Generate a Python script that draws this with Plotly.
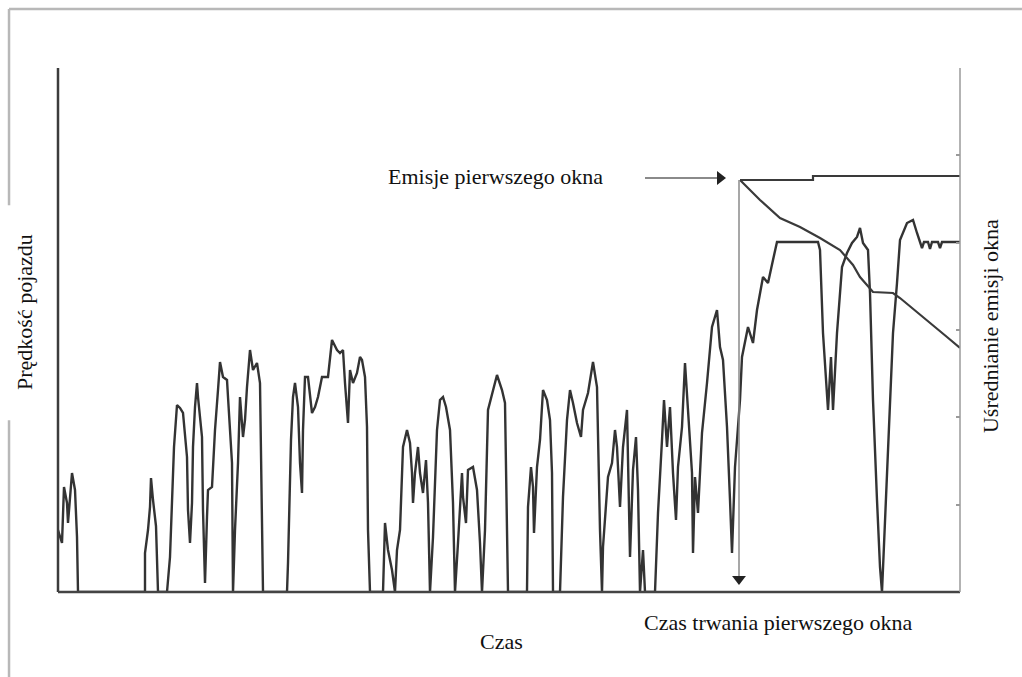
import plotly.graph_objects as go

# Vehicle speed trace (time units, speed units)
time_s = [0, 4, 6, 9, 10, 12, 14, 17, 19, 20, 87, 87, 90, 92, 93, 95, 97, 98, 100,
          109, 112, 114, 116, 119, 122, 125, 129, 130, 132, 134, 135, 137, 139, 140, 144, 145, 147,
          149, 150, 154, 157, 160, 162, 165, 169, 170, 174, 175, 177, 180, 182, 185, 187, 189, 192,
          195, 199, 202, 204, 205, 229, 230, 233, 235, 237, 240, 242, 244, 245, 247, 250, 254, 257,
          260, 264, 270, 274, 279, 282, 285, 287, 290, 292, 295, 299, 302, 304, 307, 309, 310, 312,
          325, 327, 330, 334, 337, 339, 342, 345, 349, 352, 354, 355, 357, 360, 362, 365, 368, 370,
          372, 375, 379, 382, 385, 388, 392, 395, 397, 400, 404, 405, 408, 410, 415, 419, 422, 424,
          427, 430, 435, 439, 444, 447, 449, 450, 469, 470, 473, 475, 476, 479, 482, 485, 489, 492,
          494, 495, 502, 505, 509, 512, 515, 519, 523, 525, 530, 535, 539, 540, 542, 544, 545, 550,
          554, 557, 559, 562, 565, 569, 572, 575, 578, 580, 582, 585, 587, 597, 600, 604, 606, 609,
          612, 615, 618, 620, 624, 627, 630, 634, 635, 637, 640, 644, 649, 654, 659, 662, 665, 669,
          672, 674, 677, 682, 684, 690, 695, 699, 705, 710, 715, 719, 760, 762, 765, 769, 770, 773,
          775, 779, 784, 789, 794, 799, 802, 805, 810, 812, 815, 819, 822, 824, 825, 829, 832, 835,
          839, 842, 849, 855, 859, 862, 864, 866, 870, 872, 874, 880, 882, 884, 902]
speed = [62, 49, 105, 89, 69, 95, 119, 102, 55, 0, 0, 39, 62, 85, 114, 92, 72, 66, 0,
         0, 35, 102, 145, 187, 184, 179, 135, 82, 49, 89, 145, 185, 209, 195, 155, 82, 9,
         75, 102, 105, 162, 202, 230, 215, 212, 195, 129, 0, 62, 129, 195, 155, 172, 205, 242,
         222, 229, 209, 89, 0, 0, 29, 152, 195, 209, 185, 129, 99, 162, 215, 215, 179, 185,
         195, 215, 215, 252, 242, 239, 242, 209, 169, 222, 209, 219, 235, 232, 215, 165, 62, 0,
         0, 69, 42, 22, 0, 42, 62, 145, 162, 149, 119, 89, 119, 145, 119, 99, 132, 89,
         0, 55, 162, 192, 195, 185, 162, 89, 0, 49, 119, 95, 69, 122, 125, 102, 49, 0,
         62, 182, 202, 217, 202, 189, 62, 0, 0, 85, 125, 105, 59, 125, 152, 202, 192, 172,
         119, 0, 0, 95, 172, 202, 189, 169, 155, 182, 199, 230, 205, 142, 62, 0, 45, 115,
         129, 162, 145, 85, 145, 182, 35, 122, 155, 102, 0, 42, 0, 0, 79, 152, 192, 145,
         185, 119, 72, 125, 165, 229, 185, 119, 39, 115, 79, 159, 209, 265, 282, 245, 232, 165,
         92, 39, 125, 192, 235, 265, 249, 282, 315, 309, 332, 350, 350, 342, 259, 192, 182, 235,
         182, 259, 325, 339, 349, 355, 364, 349, 342, 299, 192, 92, 25, 0, 25, 125, 192, 259,
         309, 352, 369, 372, 359, 349, 344, 350, 350, 343, 350, 350, 344, 350, 350]

# Running (window) emission average
avg_time = [682, 702, 722, 742, 762, 782, 795, 802, 815, 835, 842, 869, 889, 902]
avg_value = [412, 392, 374, 365, 354, 342, 327, 315, 300, 299, 294, 272, 255, 244]

# First-window emission level
win_time = [682, 755, 755, 902]
win_value = [412, 412, 416, 416]

# First-window marker positions
window_end = 681
arrow_start, arrow_end, arrow_level = 587, 660, 414

right_ticks = [0, 87.3, 174.7, 262, 349.3, 436.7, 524]

fig = go.Figure()

fig.add_trace(go.Scatter(x=time_s, y=speed, mode="lines",
                         line=dict(color="#333333", width=2.4), hoverinfo="skip"))
fig.add_trace(go.Scatter(x=avg_time, y=avg_value, mode="lines",
                         line=dict(color="#3a3a3a", width=2.2), hoverinfo="skip"))
fig.add_trace(go.Scatter(x=win_time, y=win_value, mode="lines",
                         line=dict(color="#3a3a3a", width=2.2), hoverinfo="skip"))
# vertical window-duration line
fig.add_trace(go.Scatter(x=[window_end, window_end], y=[412, 10], mode="lines",
                         line=dict(color="#8a8a8a", width=1.5), hoverinfo="skip"))
fig.add_trace(go.Scatter(x=[window_end], y=[13], mode="markers",
                         marker=dict(symbol="triangle-down", size=12, color="#222222"),
                         hoverinfo="skip"))
# horizontal emission arrow
fig.add_trace(go.Scatter(x=[arrow_start, arrow_end], y=[arrow_level, arrow_level], mode="lines",
                         line=dict(color="#8a8a8a", width=2), hoverinfo="skip"))
fig.add_trace(go.Scatter(x=[arrow_end + 2], y=[arrow_level], mode="markers",
                         marker=dict(symbol="triangle-right", size=12, color="#222222"),
                         hoverinfo="skip"))
# right axis carrier (for inward ticks)
fig.add_trace(go.Scatter(x=[None], y=[None], yaxis="y2", showlegend=False))

font = "Liberation Serif, Times New Roman, serif"

shapes = [
    # outer frame (top, left pieces)
    dict(type="line", xref="paper", yref="paper", x0=-0.0543, x1=1.0687, y0=1.1126, y1=1.1126,
         line=dict(color="#b8b8b8", width=2.5)),
    dict(type="line", xref="paper", yref="paper", x0=-0.0543, x1=-0.0543, y0=1.1126, y1=0.738,
         line=dict(color="#b8b8b8", width=2.5)),
    dict(type="line", xref="paper", yref="paper", x0=-0.0543, x1=-0.0543, y0=0.328, y1=-0.17,
         line=dict(color="#b8b8b8", width=2.5)),
    # axes
    dict(type="line", xref="paper", yref="paper", x0=0, x1=0, y0=0, y1=1,
         line=dict(color="#3c3c3c", width=2.5)),
    dict(type="line", xref="paper", yref="paper", x0=0, x1=1, y0=0, y1=0,
         line=dict(color="#444444", width=2.5)),
    dict(type="line", xref="paper", yref="paper", x0=1, x1=1, y0=0, y1=1,
         line=dict(color="#9a9a9a", width=1.5)),
]

txt = dict(family=font, size=22, color="#111111")
common = dict(showarrow=False, xanchor="center", yanchor="middle", font=txt)

annotations = [
    dict(text="Emisje pierwszego okna", x=437, y=416, xref="x", yref="y", **common),
    dict(text="Czas", x=0.4922, y=-0.0954, xref="paper", yref="paper", **common),
    dict(text="Czas trwania pierwszego okna", x=0.7982, y=-0.0573, xref="paper", yref="paper",
         **common),
    dict(text="Prędkość pojazdu", x=-0.0366, y=0.5344, xref="paper", yref="paper",
         textangle=-90, **common),
    dict(text="Uśrednianie emisji okna", x=1.0333, y=0.5076, xref="paper", yref="paper",
         textangle=-90, **common),
]

fig.update_layout(
    width=1022, height=677,
    margin=dict(l=58, r=62, t=68, b=85),
    paper_bgcolor="white", plot_bgcolor="white",
    showlegend=False,
    xaxis=dict(range=[0, 902], showgrid=False, zeroline=False, showticklabels=False,
               ticks="", showline=False, fixedrange=True),
    yaxis=dict(range=[0, 524], showgrid=False, zeroline=False, showticklabels=False,
               ticks="", showline=False, fixedrange=True),
    yaxis2=dict(range=[0, 524], overlaying="y", side="right", showgrid=False, zeroline=False,
                showticklabels=False, tickvals=right_ticks, ticks="inside", ticklen=4,
                tickcolor="#9a9a9a", tickwidth=1.5, showline=False),
    shapes=shapes,
    annotations=annotations,
)

fig.write_html("out.html")
